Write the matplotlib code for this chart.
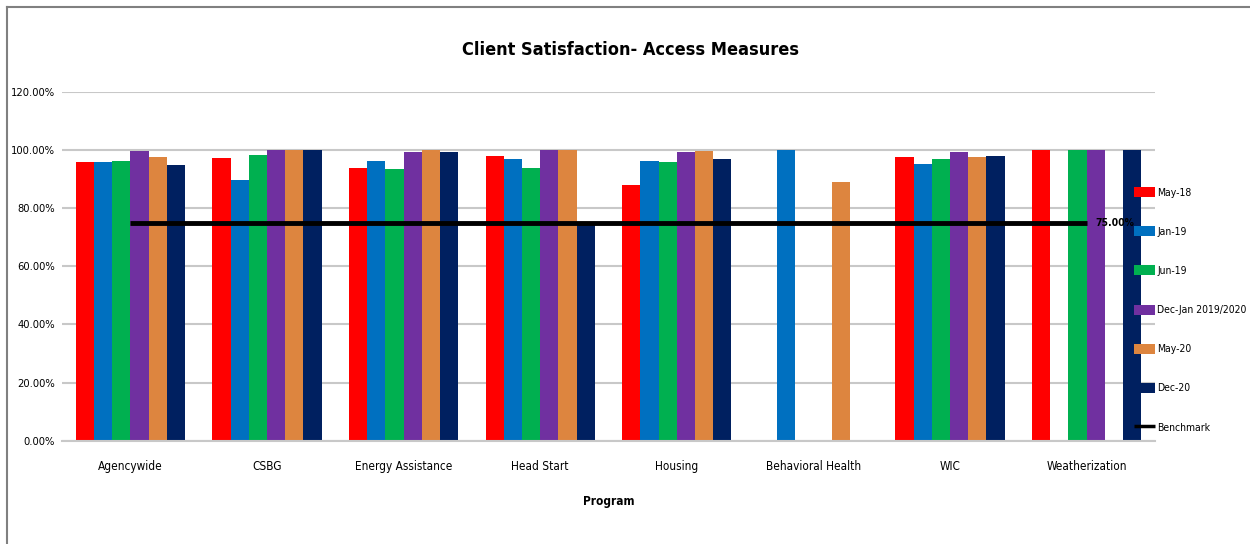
import numpy as np
import matplotlib
matplotlib.use('Agg')
import matplotlib.pyplot as plt
from matplotlib.lines import Line2D

plt.rcParams['font.family'] = ['DejaVu Sans']
plt.rcParams['font.stretch'] = 'condensed'

programs = ['Agencywide', 'CSBG', 'Energy Assistance', 'Head Start', 'Housing',
            'Behavioral Health', 'WIC', 'Weatherization']
series_names = ['May-18', 'Jan-19', 'Jun-19', 'Dec-Jan 2019/2020', 'May-20', 'Dec-20']
colors = ['#ff0000', '#0070c0', '#00b050', '#7030a0', '#dd853f', '#002060']

may18 = [95.8, 97.2, 93.7, 97.9, 88.0, np.nan, 97.7, 100.0]
jan19 = [95.8, 89.8, 96.2, 96.9, 96.2, 100.0, 95.1, np.nan]
jun19 = [96.1, 98.3, 93.3, 93.7, 95.8, np.nan, 96.9, 100.0]
decjan = [99.5, 100.0, 99.4, 99.9, 99.1, np.nan, 99.1, 100.0]
may20 = [97.6, 100.0, 99.9, 99.9, 99.5, 88.9, 97.6, np.nan]
dec20 = [94.7, 100.0, 99.1, 75.0, 96.9, np.nan, 97.9, 100.0]
benchmark = 75.0

series = [may18, jan19, jun19, decjan, may20, dec20]

fig = plt.figure(figsize=(12.5, 5.44), dpi=100)
ax = fig.add_axes([62 / 1250, 1 - 440.7 / 544, (1155 - 62) / 1250, (440.7 - 91.7) / 544])

x = np.arange(len(programs))
n = len(series)
w = 0.8 / n
handles = []
for i, (vals, name, c) in enumerate(zip(series, series_names, colors)):
    b = ax.bar(x - 0.4 + w * (i + 0.5), vals, width=w, color=c, label=name, zorder=2)
    handles.append(b)

# benchmark line runs from first to last category centre
bl, = ax.plot([x[0], x[-1]], [benchmark, benchmark], color='black', lw=3.5, zorder=3,
              label='Benchmark', solid_capstyle='butt')
ax.text(x[-1] + 0.06, benchmark, f'{benchmark:.2f}%', fontsize=7.5, fontweight='bold',
        va='center', ha='left', zorder=4)

ax.set_xlim(-0.5, len(programs) - 0.5)
ax.set_ylim(0, 120)
ax.set_yticks(np.arange(0, 121, 20))
ax.set_yticklabels([f'{v:.2f}%' for v in np.arange(0, 121, 20)], fontsize=8)
ax.set_xticks(x)
ax.set_xticklabels(programs, fontsize=8.5)
ax.tick_params(axis='y', length=0, pad=5)
ax.tick_params(axis='x', length=0, pad=14)
ax.grid(axis='y', color='#c8c8c8', lw=1.5, zorder=0)
ax.set_axisbelow(True)
for s in ['top', 'right', 'left']:
    ax.spines[s].set_visible(False)
ax.spines['bottom'].set_color('#c8c8c8')
ax.spines['bottom'].set_linewidth(1.5)

ax.set_xlabel('Program', fontsize=8.5, fontweight='bold', labelpad=16)
fig.text(630 / 1250, 1 - 50 / 544, 'Client Satisfaction- Access Measures', fontsize=13,
         fontweight='bold', ha='center', va='center')

leg = fig.legend(handles + [bl], series_names + ['Benchmark'], loc='upper left',
                 bbox_to_anchor=(1134 / 1250, 1 - 187 / 544), frameon=False, fontsize=7.5,
                 handlelength=2.0, handleheight=1.1, labelspacing=2.75, handletextpad=0.25,
                 borderaxespad=0, borderpad=0)
leg.get_lines()[0].set_linewidth(2.5)

# chart frame lines (left and top)
fig.add_artist(Line2D([7 / 1250, 7 / 1250], [0, 1 - 7 / 544], color='#808080', lw=1.5))
fig.add_artist(Line2D([7 / 1250, 1], [1 - 7 / 544, 1 - 7 / 544], color='#808080', lw=1.5))

fig.savefig('out.png', dpi=100)
